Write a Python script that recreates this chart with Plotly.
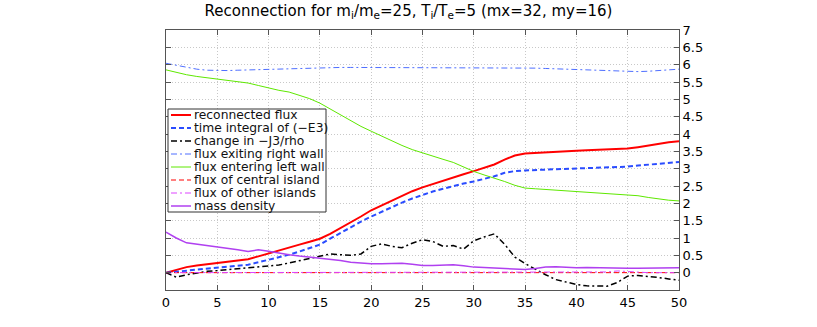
import plotly.graph_objects as go

# time axis (shared by most series)
t = list(range(0, 51))

reconnected = [0.0, 0.09, 0.16, 0.21, 0.25, 0.28, 0.32, 0.35, 0.39, 0.47, 0.56,
               0.65, 0.74, 0.81, 0.89, 0.98, 1.12, 1.28, 1.45, 1.62, 1.80,
               1.94, 2.08, 2.22, 2.35, 2.46, 2.56, 2.66, 2.75, 2.84, 2.93,
               3.02, 3.12, 3.26, 3.38, 3.44, 3.46, 3.48, 3.50, 3.51, 3.52,
               3.53, 3.54, 3.55, 3.56, 3.58, 3.62, 3.67, 3.72, 3.76, 3.79]

e3_integral = [0.0, 0.03, 0.06, 0.09, 0.12, 0.15, 0.18, 0.20, 0.23, 0.30, 0.37,
               0.44, 0.52, 0.61, 0.71, 0.81, 0.98, 1.15, 1.32, 1.47, 1.62,
               1.76, 1.89, 2.02, 2.14, 2.25, 2.34, 2.42, 2.50, 2.57, 2.63,
               2.70, 2.78, 2.88, 2.93, 2.95, 2.96, 2.97, 2.98, 2.99, 2.99,
               3.00, 3.01, 3.02, 3.04, 3.06, 3.09, 3.12, 3.15, 3.17, 3.19]

j3_change = [0.0, -0.13, -0.06, 0.0, 0.04, 0.06, 0.09, 0.11, 0.14, 0.18, 0.21,
             0.22, 0.28, 0.34, 0.41, 0.47, 0.54, 0.52, 0.50, 0.54, 0.76,
             0.83, 0.76, 0.72, 0.85, 0.95, 0.90, 0.76, 0.78, 0.68, 0.92,
             1.03, 1.12, 0.82, 0.45, 0.26, 0.09, -0.06, -0.20, -0.28, -0.34,
             -0.38, -0.39, -0.39, -0.28, -0.10, -0.08, -0.10, -0.14, -0.18, -0.22]

right_wall = [6.04, 5.98, 5.92, 5.87, 5.84, 5.83, 5.83, 5.84, 5.85, 5.86, 5.87,
              5.88, 5.89, 5.90, 5.91, 5.92, 5.92, 5.92, 5.92, 5.92, 5.92,
              5.92, 5.92, 5.92, 5.92, 5.92, 5.92, 5.92, 5.92, 5.91, 5.91,
              5.91, 5.91, 5.91, 5.90, 5.90, 5.90, 5.89, 5.88, 5.88, 5.87,
              5.86, 5.84, 5.82, 5.81, 5.80, 5.80, 5.81, 5.83, 5.85, 5.87]

left_wall = [5.85, 5.77, 5.71, 5.66, 5.62, 5.58, 5.55, 5.51, 5.47, 5.40, 5.32,
             5.26, 5.21, 5.12, 5.02, 4.89, 4.72, 4.55, 4.38, 4.22, 4.08,
             3.94, 3.80, 3.67, 3.55, 3.45, 3.36, 3.27, 3.18, 3.05, 2.92,
             2.82, 2.73, 2.63, 2.52, 2.44, 2.42, 2.40, 2.39, 2.37, 2.36,
             2.34, 2.32, 2.30, 2.28, 2.26, 2.22, 2.17, 2.12, 2.09, 2.07]

mass_density = [1.17, 1.00, 0.86, 0.82, 0.79, 0.76, 0.72, 0.66, 0.61, 0.66, 0.62,
                0.56, 0.52, 0.48, 0.45, 0.42, 0.38, 0.35, 0.30, 0.27, 0.26,
                0.26, 0.27, 0.27, 0.24, 0.21, 0.21, 0.23, 0.23, 0.20, 0.16,
                0.15, 0.14, 0.12, 0.10, 0.09, 0.12, 0.16, 0.17, 0.15, 0.14,
                0.15, 0.14, 0.13, 0.13, 0.13, 0.13, 0.13, 0.14, 0.14, 0.14]

t_central = [0, 50]
central_island = [0.0, 0.0]

t_other = [0, 42, 43, 44, 45, 46, 47, 50]
other_islands = [0.0, 0.0, 0.02, 0.05, 0.04, 0.02, 0.0, 0.0]

x_ticks = [0, 5, 10, 15, 20, 25, 30, 35, 40, 45, 50]
y_ticks = [0, 0.5, 1, 1.5, 2, 2.5, 3, 3.5, 4, 4.5, 5, 5.5, 6, 6.5, 7]

# name, x, y, color, dash, width
series = [
    ("reconnected flux", t, reconnected, "#ff0000", "solid", 2),
    ("time integral of (\u2212E3)", t, e3_integral, "#2a4cff", "5px,3px", 2),
    ("change in \u2212J3/rho", t, j3_change, "#000000", "6px,3px,2px,3px", 1.5),
    ("flux exiting right wall", t, right_wall, "#4f6fff", "6px,3px,2px,3px", 1),
    ("flux entering left wall", t, left_wall, "#5ee800", "solid", 1),
    ("flux of central island", t_central, central_island, "#ff0000", "5px,3px", 1),
    ("flux of other islands", t_other, other_islands, "#dd44ff", "6px,3px,2px,3px", 1),
    ("mass density", t, mass_density, "#b040f0", "solid", 1.5),
]

W, H = 817, 327
L, R, T, B = 166, 679, 30, 290

fig = go.Figure()
for name, xs, ys, color, dash, width in series:
    fig.add_trace(
        go.Scatter(
            x=xs,
            y=ys,
            name=name,
            mode="lines",
            line=dict(color=color, dash=dash, width=width),
            showlegend=False,
        )
    )


def px_x(p):
    return (p - L) / (R - L)


def px_y(p):
    return (B - p) / (B - T)


# hand drawn legend, matlab style (compact rows)
shapes = [
    dict(type="rect", xref="paper", yref="paper",
         x0=px_x(168), x1=px_x(326), y0=px_y(212), y1=px_y(109),
         line=dict(color="#333333", width=1), fillcolor="white", layer="above"),
]
annotations = []
for i, (name, xs, ys, color, dash, width) in enumerate(series):
    yc = px_y(115 + 13 * i)
    shapes.append(dict(type="line", xref="paper", yref="paper",
                       x0=px_x(171), x1=px_x(191), y0=yc, y1=yc,
                       line=dict(color=color, dash=dash, width=width), layer="above"))
    annotations.append(dict(text=name, xref="paper", yref="paper",
                            x=px_x(192), y=yc, xanchor="left", yanchor="middle",
                            showarrow=False, font=dict(size=12.3, color="#111111")))

fig.update_layout(
    width=W,
    height=H,
    margin=dict(l=L, r=W - R, t=T, b=H - B, pad=0),
    paper_bgcolor="white",
    plot_bgcolor="white",
    font=dict(family="DejaVu Sans, sans-serif", size=13, color="black"),
    title=dict(
        text="Reconnection for m<sub>i</sub>/m<sub>e</sub>=25, T<sub>i</sub>/T<sub>e</sub>=5 (mx=32, my=16)",
        x=0.5, xref="container", xanchor="center",
        y=1 - 11 / H, yref="container", yanchor="middle",
        font=dict(size=15, color="black"),
    ),
    shapes=shapes,
    annotations=annotations,
)

fig.update_xaxes(
    range=[0, 50], tickvals=x_ticks, showline=True, linecolor="#555555", linewidth=1,
    mirror="ticks", ticks="inside", ticklen=5, tickcolor="#555555",
    showgrid=True, gridcolor="#c8c8c8", griddash="1px,2px", gridwidth=1, zeroline=False,
)
fig.update_yaxes(
    range=[-0.5, 7], tickvals=y_ticks, side="right", showline=True, linecolor="#555555",
    linewidth=1, mirror="ticks", ticks="inside", ticklen=5, tickcolor="#555555",
    showgrid=True, gridcolor="#c8c8c8", griddash="1px,2px", gridwidth=1, zeroline=False,
)

# drop the default 8px page margin so the figure sits at the window origin
fig.write_html(
    "out.html",
    config={"displayModeBar": False},
    post_script="document.body.style.margin='0';",
)
